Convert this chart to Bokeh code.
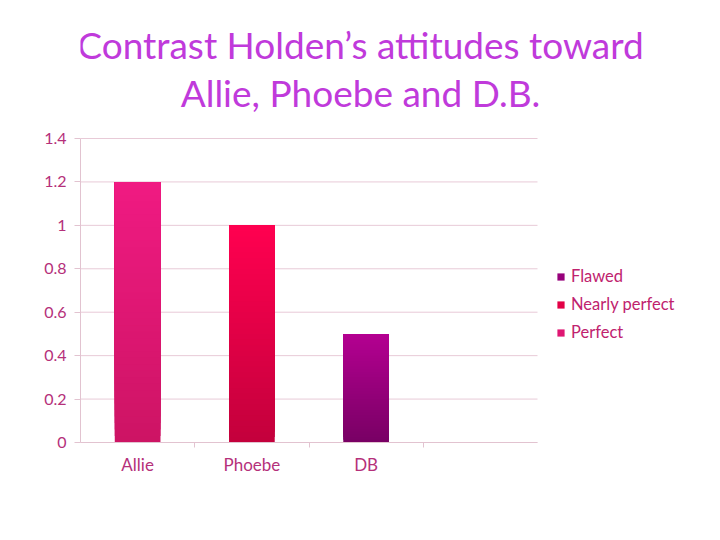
import numpy as np
from bokeh.plotting import figure
from bokeh.models import Label, Legend, LegendItem, FixedTicker, ColumnDataSource, Range1d
from bokeh.embed import file_html
from bokeh.resources import INLINE

# ---- data ----
title_lines = ["Contrast Holden\u2019s attitudes toward", "Allie, Phoebe and D.B."]
categories = ["Allie", "Phoebe", "DB", ""]
series = ["Perfect", "Nearly perfect", "Flawed"]
values = [1.2, 1.0, 0.5]
y_ticks = [0, 0.2, 0.4, 0.6, 0.8, 1.0, 1.2, 1.4]
y_tick_labels = ["0", "0.2", "0.4", "0.6", "0.8", "1", "1.2", "1.4"]

# ---- styles / layout ----
top_colors = [(240, 26, 130), (255, 0, 80), (180, 0, 145)]
bottom_colors = [(205, 20, 100), (195, 0, 60), (120, 0, 100)]
title_color = "#C03ADB"
label_color = "#B5307A"
legend_text_color = "#C0226E"
grid_color = "#E8CAD7"
axis_color = "#E2C3D0"
FONT = "Lato"

W, H = 704, 524
LEFT, BOTTOM = 80, 82
AX_W, AX_H = 457, 304          # pixel size of the actual chart area
FRAME_W, FRAME_H = W - LEFT, H - BOTTOM
n_cat = len(categories)
y_max = y_ticks[-1]

p = figure(width=W, height=H, output_backend="svg", toolbar_location=None,
           x_range=Range1d(0, n_cat * FRAME_W / AX_W),
           y_range=Range1d(0, y_max * FRAME_H / AX_H),
           min_border_left=LEFT, min_border_right=0, min_border_top=0,
           min_border_bottom=BOTTOM)
p.outline_line_color = None
p.background_fill_color = "white"
p.xgrid.grid_line_color = None
p.ygrid.grid_line_color = None

# horizontal gridlines only across the chart area
p.segment(x0=[0] * len(y_ticks), x1=[n_cat] * len(y_ticks), y0=y_ticks, y1=y_ticks,
          line_color=grid_color, line_width=1)

# gradient bars: overlapping slices of each value, each running up to the value
n_seg = 40
legend_items = []
for i, (name, v) in enumerate(zip(series, values)):
    fr = np.arange(n_seg) / n_seg
    bottoms = v * fr
    tops = [v] * n_seg
    t = (fr + 0.5 / n_seg)
    cols = []
    for tt in t:
        c = [int(round(b + (tp - b) * tt)) for b, tp in zip(bottom_colors[i], top_colors[i])]
        cols.append("#%02x%02x%02x" % tuple(c))
    src = ColumnDataSource(dict(x=[i + 0.5] * n_seg, bottom=bottoms, top=tops, color=cols))
    r = p.vbar(x="x", bottom="bottom", top="top", width=0.4, source=src,
               fill_color="color", line_color=None)
    legend_items.append(LegendItem(label=name, renderers=[r], index=n_seg // 2))

legend = Legend(items=list(reversed(legend_items)), location=(476, 100),
                label_text_font=FONT, label_text_font_size="16.5px",
                label_text_color=legend_text_color,
                glyph_width=9, glyph_height=9, label_height=20, spacing=8,
                label_standoff=6, padding=0, margin=0, border_line_color=None,
                background_fill_alpha=0)
p.add_layout(legend, "center")

# x axis
p.xaxis.bounds = (0, n_cat)
p.xaxis.ticker = FixedTicker(ticks=[i + 0.5 for i in range(n_cat)],
                             minor_ticks=list(range(1, n_cat)))
p.xaxis.major_label_overrides = {i + 0.5: c for i, c in enumerate(categories)}
p.xaxis.major_tick_line_color = None
p.xaxis.minor_tick_in = 0
p.xaxis.minor_tick_out = 5
p.xaxis.minor_tick_line_color = axis_color
p.xaxis.axis_line_color = axis_color
p.xaxis.major_label_text_font = FONT
p.xaxis.major_label_text_font_size = "17px"
p.xaxis.major_label_text_color = label_color
p.xaxis.major_label_standoff = 5

# y axis
p.yaxis.bounds = (0, y_max)
p.yaxis.ticker = FixedTicker(ticks=y_ticks, minor_ticks=[])
p.yaxis.major_label_overrides = {t: l for t, l in zip(y_ticks, y_tick_labels)}
p.yaxis.major_tick_in = 0
p.yaxis.major_tick_out = 6
p.yaxis.major_tick_line_color = axis_color
p.yaxis.axis_line_color = axis_color
p.yaxis.major_label_text_font = FONT
p.yaxis.major_label_text_font_size = "16px"
p.yaxis.major_label_text_color = label_color
p.yaxis.major_label_standoff = 8

# title as two centred lines (screen units relative to the frame)
for k, line in enumerate(title_lines):
    p.add_layout(Label(x=280, y=FRAME_H - 44 - 48 * k, x_units="screen", y_units="screen",
                       text=line, text_align="center", text_baseline="middle",
                       text_font=FONT, text_font_size="37px", text_color=title_color))

open("out.html", "w").write(file_html(p, INLINE))
